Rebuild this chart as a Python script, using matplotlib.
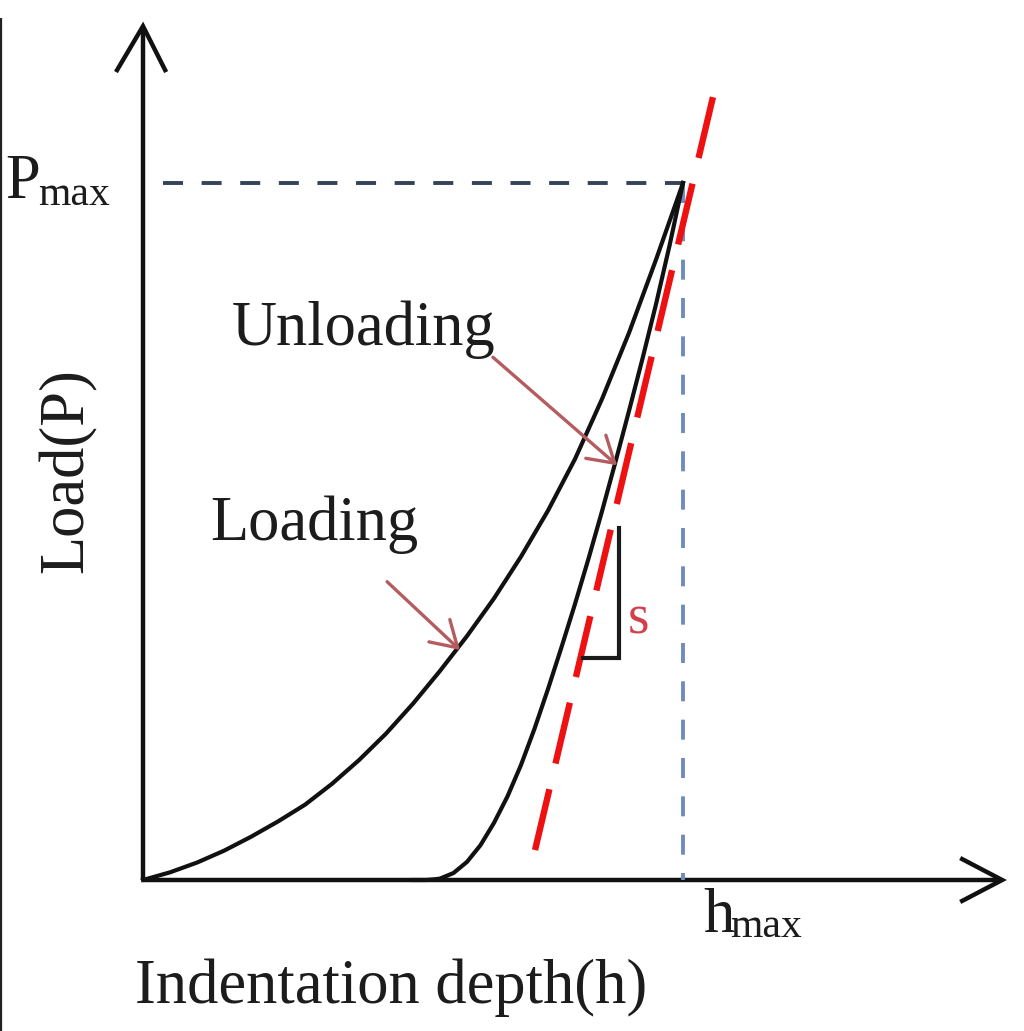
import matplotlib
matplotlib.use("Agg")
import matplotlib.pyplot as plt

plt.rcParams['lines.scale_dashes'] = False
plt.rcParams['font.family'] = ['Liberation Serif', 'DejaVu Serif']

# ---- data (normalised: h / h_max, P / P_max) ----
loading_h = [0.0, 0.05, 0.10, 0.15, 0.20, 0.25, 0.30, 0.35, 0.40, 0.45, 0.50,
             0.55, 0.60, 0.65, 0.70, 0.75, 0.80, 0.85, 0.90, 0.95, 1.0]
loading_P = [0.0, 0.011, 0.025, 0.042, 0.062, 0.084, 0.108, 0.138, 0.172, 0.210, 0.253,
             0.300, 0.350, 0.404, 0.464, 0.530, 0.604, 0.690, 0.785, 0.890, 1.0]

unloading_h = [0.50, 0.525, 0.54, 0.55, 0.575, 0.60, 0.625, 0.65, 0.675, 0.70, 0.725,
               0.75, 0.775, 0.80, 0.825, 0.85, 0.875, 0.90, 0.925, 0.95, 0.975, 1.0]
unloading_P = [0.0, 0.0, 0.001, 0.002, 0.010, 0.026, 0.050, 0.082, 0.120, 0.165, 0.217,
               0.274, 0.334, 0.396, 0.461, 0.529, 0.600, 0.673, 0.748, 0.826, 0.910, 1.0]

tangent_h = [0.726, 1.063]
tangent_P = [0.043, 1.148]

h_max = 1.0
P_max = 1.0

# stiffness triangle
tri_h = [0.815, 0.881, 0.881]
tri_P = [0.3185, 0.3185, 0.505]

fig = plt.figure(figsize=(10.24, 10.31), dpi=100)
ax = fig.add_axes([0, 0, 1, 1])
ax.set_xlim(-143 / 540, (1024 - 143) / 540)
ax.set_ylim(-151 / 697, 880 / 697)
ax.axis('off')

txt = '#1c1c1c'
arrow_c = '#b45c5f'

# left border line of the original picture
ax.plot([-0.263, -0.263], [-0.22, 1.237], color='#222222', lw=1.6, solid_capstyle='butt')

# axes with open arrow heads
ax.plot([0, 0], [0, 1.222], color='#111111', lw=3.2, solid_capstyle='butt')
ax.plot([-0.048, 0, 0.041], [1.162, 1.225, 1.162], color='#111111', lw=3.2,
        solid_joinstyle='miter')
ax.plot([0, 1.588], [0, 0], color='#111111', lw=3.2, solid_capstyle='butt')
ax.plot([1.517, 1.591, 1.517], [0.030, 0, -0.030], color='#111111', lw=3.2,
        solid_joinstyle='miter')

# reference dashed lines
ax.plot([0.037, h_max], [P_max, P_max], color='#34435a', lw=2.8,
        dashes=(14.4, 13.4))
ax.plot([h_max, h_max], [P_max, 0], color='#6f8cbc', lw=2.8,
        dashes=(14.4, 13.2))

# curves
ax.plot(loading_h, loading_P, color='#111111', lw=3.0, solid_joinstyle='round')
ax.plot(unloading_h, unloading_P, color='#111111', lw=3.0, solid_joinstyle='round')

# tangent (stiffness) line
ax.plot(tangent_h, tangent_P, color='#ee1111', lw=4.6, dashes=(45, 19),
        dash_capstyle='butt')

# stiffness triangle
ax.plot(tri_h, tri_P, color='#1a1a1a', lw=3.0, solid_joinstyle='miter')
ax.text(0.898, 0.354, 's', color='#d3404b', fontsize=40, ha='left', va='baseline')

# labels
ax.text(0.165, 0.768, 'Unloading', color=txt, fontsize=45, ha='left', va='baseline')
ax.text(0.124, 0.488, 'Loading', color=txt, fontsize=45, ha='left', va='baseline')
ax.text(-0.139, 0.588, 'Load(P)', color=txt, fontsize=45, rotation=90,
        ha='center', va='center')
ax.text(-0.015, -0.176, 'Indentation depth(h)', color=txt, fontsize=45,
        ha='left', va='baseline')
ax.text(-0.256, 0.978, 'P', color=txt, fontsize=45, ha='left', va='baseline')
ax.text(-0.194, 0.968, 'max', color=txt, fontsize=30, ha='left', va='baseline')
ax.text(1.037, -0.0746, 'h', color=txt, fontsize=45, ha='left', va='baseline')
ax.text(1.087, -0.0818, 'max', color=txt, fontsize=30, ha='left', va='baseline')

# pointer arrows
ax.annotate('', xy=(0.878, 0.595), xytext=(0.648, 0.750),
            arrowprops=dict(arrowstyle='->,head_length=0.9,head_width=0.55',
                            color=arrow_c, lw=2.4, mutation_scale=20,
                            shrinkA=0, shrinkB=0))
ax.annotate('', xy=(0.587, 0.330), xytext=(0.452, 0.428),
            arrowprops=dict(arrowstyle='->,head_length=0.9,head_width=0.55',
                            color=arrow_c, lw=2.4, mutation_scale=20,
                            shrinkA=0, shrinkB=0))

fig.savefig('out.png', dpi=100, facecolor='white')
